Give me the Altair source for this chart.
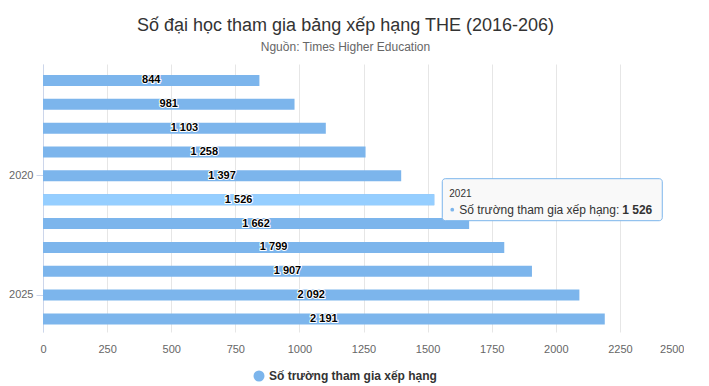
import altair as alt
import pandas as pd

# ---- data ----
years = [2016, 2017, 2018, 2019, 2020, 2021, 2022, 2023, 2024, 2025, 2026]
counts = [844, 981, 1103, 1258, 1397, 1526, 1662, 1799, 1907, 2092, 2191]
x_ticks = [0, 250, 500, 750, 1000, 1250, 1500, 1750, 2000, 2250, 2500]
y_label_years = [2020, 2025]
series_name = "Số trường tham gia xếp hạng"
hover_year = 2021
chart_title = "Số đại học tham gia bảng xếp hạng THE (2016-206)"
chart_subtitle = "Nguồn: Times Higher Education"

FONT = "Liberation Sans"
BAR = "#7cb5ec"
BAR_HOVER = "#95ceff"

df = pd.DataFrame({"year": years, "count": counts})
df["series"] = series_name
df["label"] = [f"{v:,}".replace(",", " ") for v in counts]
df["half"] = df["count"] / 2
df["tip"] = series_name + ": "

base = alt.Chart(df)

y_enc = alt.Y(
    "year:O",
    scale=alt.Scale(paddingInner=0, paddingOuter=0.118, align=0.8),
    axis=alt.Axis(
        values=y_label_years,
        title=None,
        grid=False,
        domainColor="#ccd6eb",
        tickColor="#ccd6eb",
        tickSize=7,
        labelColor="#666666",
        labelFontSize=11,
        labelPadding=3,
        labelFont=FONT,
    ),
)

x_scale = alt.Scale(domain=[0, 2500], nice=False)

bars = base.mark_bar(size=11).encode(
    y=y_enc,
    x=alt.X(
        "count:Q",
        scale=x_scale,
        axis=alt.Axis(
            values=x_ticks,
            format="d",
            title=None,
            domain=False,
            ticks=False,
            grid=True,
            gridColor="#e6e6e6",
            gridOpacity={"condition": {"test": "datum.value == 2500", "value": 0}, "value": 1},
            labelColor="#666666",
            labelFontSize=11,
            labelFont=FONT,
            labelPadding=11,
            labelAlign={"condition": {"test": "datum.value == 2500", "value": "right"}, "value": "center"},
        ),
    ),
    color=alt.Color(
        "series:N",
        scale=alt.Scale(domain=[series_name], range=[BAR]),
        legend=alt.Legend(
            title=None,
            orient="none",
            legendX=210,
            legendY=306,
            symbolType="circle",
            symbolSize=121,
            symbolStrokeWidth=0,
            labelFont=FONT,
            labelFontSize=12,
            labelFontWeight="bold",
            labelColor="#333333",
            labelLimit=0,
        ),
    ),
)

hover = base.transform_filter(alt.datum.year == hover_year).mark_bar(size=11, color=BAR_HOVER).encode(
    y="year:O", x=alt.X("count:Q", scale=x_scale)
)

label_outline = base.mark_text(
    font=FONT, fontSize=11, fontWeight="bold", stroke="white", strokeWidth=2, fill="white", baseline="middle"
).encode(y="year:O", x=alt.X("half:Q", scale=x_scale), text="label:N")

labels = base.mark_text(
    font=FONT, fontSize=11, fontWeight="bold", color="#000000", baseline="middle"
).encode(y="year:O", x=alt.X("half:Q", scale=x_scale), text="label:N")

tip_base = base.transform_filter(alt.datum.year == hover_year)

tip_box = tip_base.mark_bar(
    size=42, fill="#f9f9f9", stroke=BAR, strokeWidth=1, cornerRadius=3,
    xOffset=8, x2Offset=228, orient="horizontal",
).encode(y="year:O", x=alt.X("count:Q", scale=x_scale), x2="count:Q")

tip_year = tip_base.mark_text(
    font=FONT, fontSize=10, color="#333333", align="left", baseline="middle", dx=15, dy=-6
).encode(y="year:O", x=alt.X("count:Q", scale=x_scale), text="year:N")

tip_dot = tip_base.mark_circle(size=14, color=BAR, opacity=1, xOffset=18, yOffset=10).encode(
    y="year:O", x=alt.X("count:Q", scale=x_scale)
)

tip_text = tip_base.mark_text(
    font=FONT, fontSize=12, color="#333333", align="left", baseline="middle", dx=25, dy=10
).encode(y="year:O", x=alt.X("count:Q", scale=x_scale), text="tip:N")

tip_value = tip_base.mark_text(
    font=FONT, fontSize=12, fontWeight="bold", color="#333333", align="right", baseline="middle", dx=218, dy=10
).encode(y="year:O", x=alt.X("count:Q", scale=x_scale), text="label:N")

chart = (
    alt.layer(bars, hover, label_outline, labels, tip_box, tip_year, tip_dot, tip_text, tip_value)
    .properties(
        width=641,
        height=268,
        autosize=alt.AutoSizeParams(type="none"),
        padding={"left": 35, "right": 0, "top": 56, "bottom": 54},
        background="white",
        title=alt.TitleParams(
            text=chart_title,
            subtitle=chart_subtitle,
            font=FONT,
            fontSize=18,
            fontWeight="normal",
            color="#333333",
            subtitleFont=FONT,
            subtitleFontSize=12,
            subtitleColor="#666666",
            subtitlePadding=7,
            anchor="middle",
            dx=-18,
            offset=11,
        ),
    )
    .configure(font=FONT)
    .configure_view(stroke="transparent", strokeWidth=0)
    .configure_axisX(domain=False)
)

chart.save("out.html", embed_options={"renderer": "svg", "actions": False})
